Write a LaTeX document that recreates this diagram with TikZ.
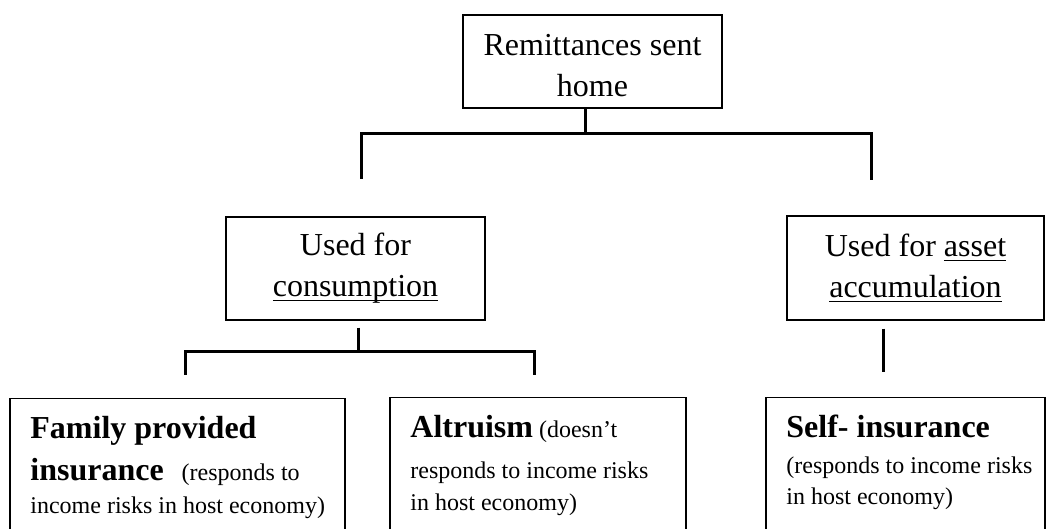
\documentclass[tikz,border=0pt]{standalone}
\usepackage{fontspec}
\setmainfont{Liberation Serif}
\usetikzlibrary{calc}
\newcommand\undl[1]{\setbox0\hbox{#1}\rlap{\rule[-2pt]{\wd0}{0.6pt}}\box0}
\newcommand\headword[1]{{\fontsize{16}{21}\selectfont\bfseries #1}}
\tikzset{
  box/.style={draw, line width=0.75pt, inner sep=0pt, align=center, font=\fontsize{16}{20.5}\selectfont},
  lowbox/.style={draw, line width=0.75pt, inner sep=0pt, anchor=north west, minimum height=100pt},
  note/.style={inner sep=0pt, anchor=north west, align=left, font=\fontsize{12}{15.5}\selectfont},
  bracket/.style={line width=1.5pt}
}
\begin{document}
\begin{tikzpicture}[x=0.5pt, y=-0.5pt]
        \useasboundingbox (0,0) rectangle (1046,529);
        \clip (0,0) rectangle (1046,529);
        % The upper boxes
        \node[box, minimum width=129.5pt, minimum height=46.5pt] (sent) at (592.5,61.5) {\rule{0pt}{15pt}Remittances sent\\home};
        \node[box, minimum width=129.5pt, minimum height=51.5pt] (cons) at (355.5,268.5) {Used for\\\undl{consumption}};
        \node[box, minimum width=128.5pt, minimum height=52pt] (asset) at (915.5,268) {Used for \undl{asset}\\\undl{accumulation}};

        % The lower boxes, running off the page
        \node[lowbox, minimum width=167.5pt] (family) at (9,398) {};
        \node[lowbox, minimum width=148pt] (altru) at (389,397) {};
        \node[lowbox, minimum width=139.5pt] (self) at (765,397) {};
        \node[note] (familytxt) at ($(family.north west)+(21,18)$) {%
          \headword{Family provided}\\[5.5pt]
          \headword{insurance}\hspace{9pt}(responds to\\[1pt]
          income risks in host economy)};
        \node[note] (altrutxt) at ($(altru.north west)+(21,18)$) {%
          \headword{Altruism} (doesn’t\\[5pt]
          responds to income risks\\[0.5pt]
          in host economy)};
        \node[note] (selftxt) at ($(self.north west)+(21,18)$) {%
          \headword{Self- insurance}\\[2.5pt]
          (responds to income risks\\
          in host economy)};

        % The brackets
        \coordinate (j1) at (585,134);
        \coordinate (cl) at (361,179);
        \coordinate (cr) at (871,180);
        \draw[bracket] (sent.south -| j1) -- (j1);
        \draw[bracket] (cl) |- (j1) -| (cr);

        \coordinate (j2) at (358,352);
        \coordinate (dl) at (185,375);
        \coordinate (dr) at (534,375);
        \draw[bracket] ($(cons.south -| j2)+(0,7)$) -- (j2);
        \draw[bracket] (dl) |- (j2) -| (dr);

        \coordinate (e3) at (883,372);
        \draw[bracket] ($(asset.south -| e3)+(0,8)$) -- (e3);
\end{tikzpicture}
\end{document}
